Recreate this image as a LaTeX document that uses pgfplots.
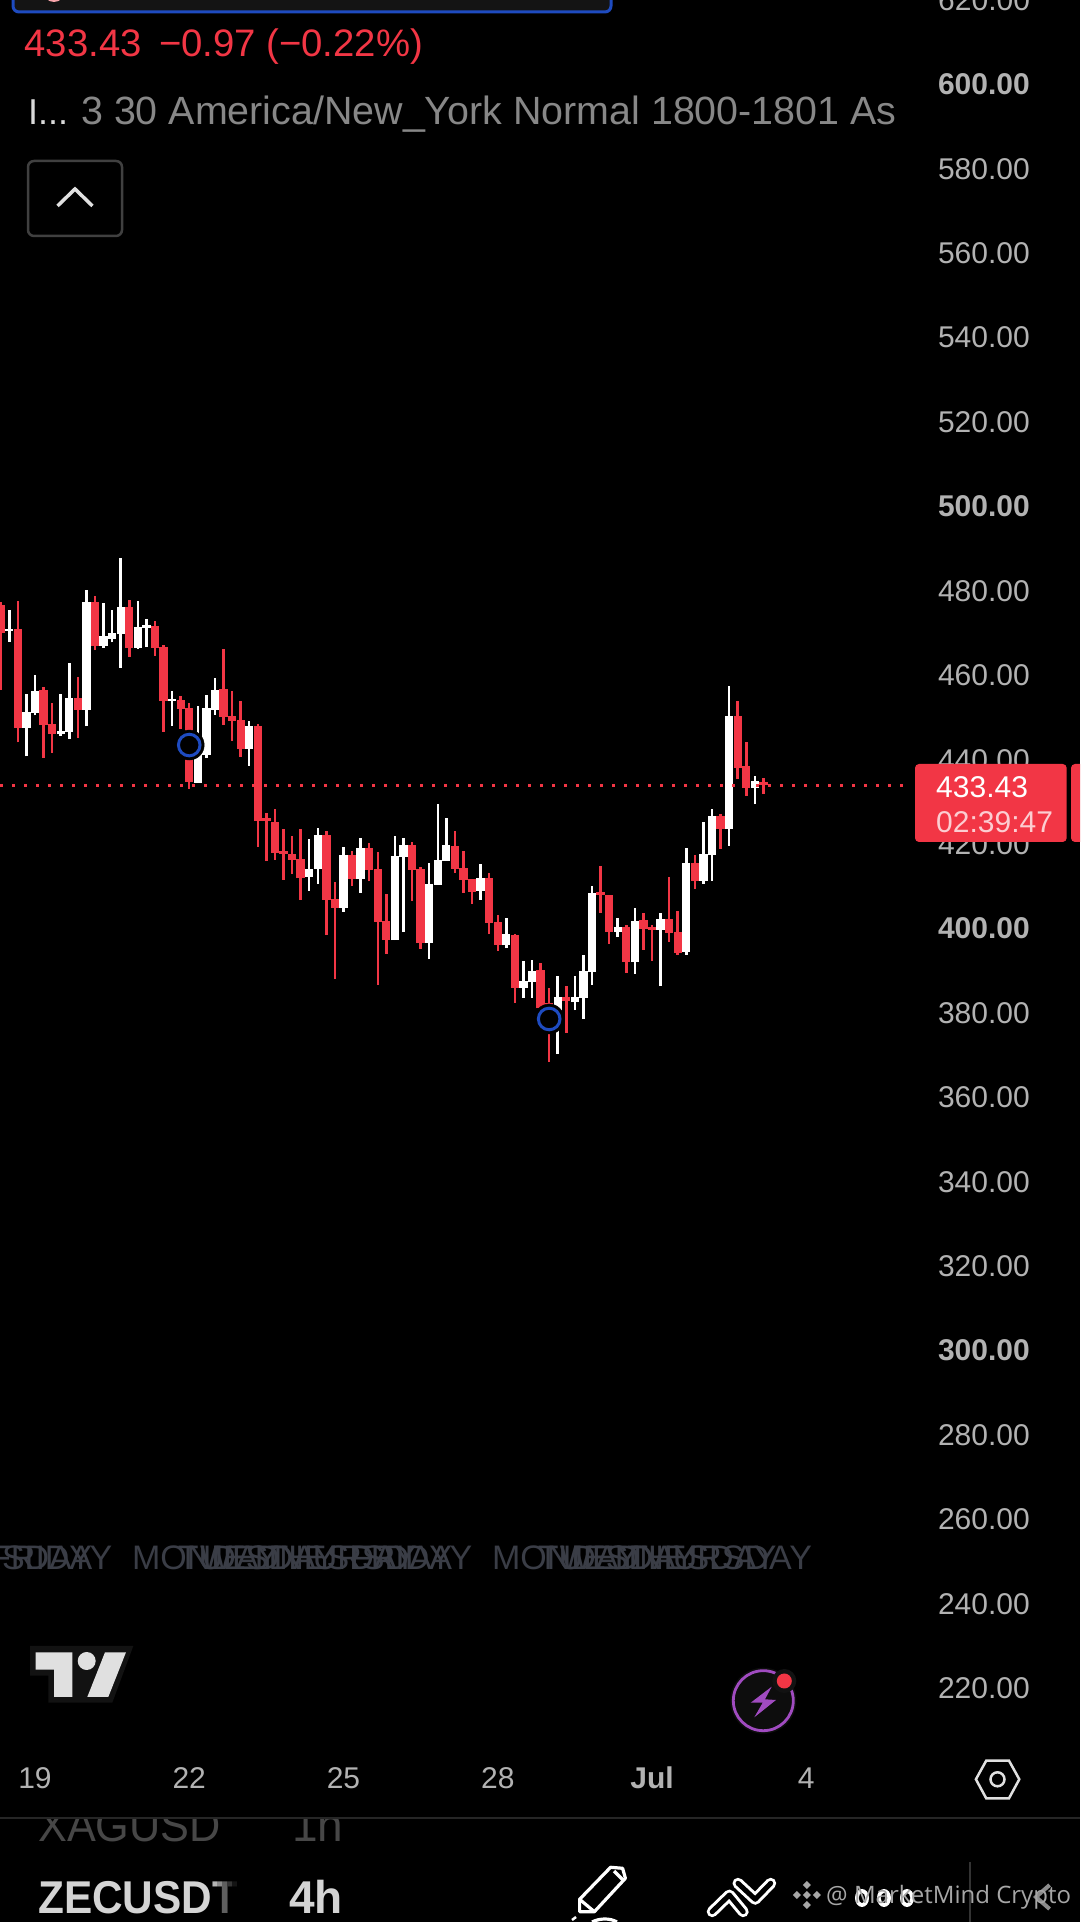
\documentclass[border=0pt]{standalone}
\usepackage{fontspec}
\usepackage{pgfplots}
\usepackage{pgfplotstable}
\pgfplotsset{compat=1.18}
\setmainfont{Liberation Sans}
\newfontfamily\wmfont{Open Sans}
\definecolor{tvred}{HTML}{F23645}
\definecolor{ticktext}{HTML}{B2B2B2}
\definecolor{daytext}{HTML}{3A3D46}
\definecolor{marker}{HTML}{1E4BC0}
\definecolor{purp}{HTML}{A04BC0}
\newcommand{\fs}[1]{\fontsize{#1}{#1}\selectfont}

% candle index, body top, body bottom, high, low (4h candles, index 4 = 19 Jun)
\pgfplotstableread{
i top bot high low
1 470.4 470.0 475.0 467.5
3 450.8 447.1 455.1 440.3
4 455.8 450.7 459.5 450.0
7 446.3 445.6 455.1 445.2
8 454.1 446.1 462.4 444.5
10 476.9 451.3 479.7 447.4
12 468.9 466.5 476.6 466.0
13 469.6 468.2 475.0 467.3
14 475.7 469.3 487.2 461.3
16 470.9 466.0 477.1 465.8
17 471.4 470.8 472.8 466.2
20 453.9 453.4 455.8 447.5
23 442.6 434.1 452.3 434.1
24 451.7 440.6 454.9 440.0
25 456.1 451.3 458.8 450.2
29 447.5 442.1 448.6 438.1
36 413.7 411.8 420.8 408.5
37 421.7 413.7 423.4 410.1
40 417.0 404.4 418.9 403.5
42 418.6 411.3 421.0 408.0
46 416.7 396.8 421.5 396.8
47 419.3 416.5 421.0 398.7
50 410.1 396.1 415.1 392.3
51 415.8 409.9 429.1 409.9
52 419.3 415.5 425.7 415.5
56 411.5 408.4 414.8 406.3
59 398.2 395.6 402.0 394.9
61 387.1 385.5 391.9 383.1
62 389.5 386.9 392.1 383.1
65 383.3 378.7 388.3 369.8
67 383.3 382.1 388.3 380.2
68 389.5 383.1 393.3 378.1
69 408.0 389.3 409.6 386.2
72 399.9 398.7 402.0 397.5
74 401.3 391.6 404.4 388.8
77 401.8 399.2 403.2 385.9
80 415.1 394.0 418.6 393.3
82 417.2 410.8 424.8 410.1
83 426.2 417.0 427.9 410.8
85 449.9 423.1 457.0 419.1
88 434.5 432.8 435.7 429.0
}\upcandles

\pgfplotstableread{
i top bot high low
0 476.2 469.5 476.8 456.1
2 470.4 447.1 477.1 443.6
5 456.1 447.8 456.8 440.0
6 448.0 445.6 453.0 441.2
9 454.1 451.3 459.1 444.7
11 476.9 466.5 478.3 465.5
15 475.7 466.0 477.3 463.9
18 471.2 466.1 472.4 464.2
19 466.2 453.4 466.6 446.2
21 453.7 451.6 454.6 446.8
22 451.8 434.3 452.9 432.6
26 456.3 449.7 465.8 447.8
27 449.9 448.8 455.8 444.0
28 448.9 442.1 453.4 440.2
30 447.5 425.0 447.9 418.9
31 425.6 425.0 426.8 415.5
32 424.8 417.4 427.9 415.8
33 417.8 417.2 423.1 411.1
34 417.2 415.8 421.5 412.5
35 416.0 411.5 423.1 406.3
38 421.7 406.3 422.7 398.0
39 406.5 404.4 410.5 387.6
41 417.0 411.3 417.9 409.6
43 418.6 413.4 419.8 410.7
44 413.7 401.1 417.7 386.2
45 401.3 396.8 407.7 393.5
48 419.3 413.4 420.1 406.1
49 413.7 396.1 414.1 394.7
53 419.1 413.7 422.7 412.7
54 413.9 411.0 417.9 408.0
55 411.3 408.2 411.3 405.4
57 411.5 400.9 412.7 398.2
58 401.1 395.6 402.8 394.2
60 398.0 385.5 398.3 382.0
63 389.7 380.6 391.4 379.9
64 381.8 379.5 385.5 367.9
66 383.3 382.4 385.9 374.8
70 408.2 407.5 414.4 403.2
71 407.5 398.7 407.5 395.9
73 399.9 391.6 400.4 389.0
75 401.6 399.4 403.2 394.5
76 399.9 399.2 400.4 391.9
78 401.8 398.5 411.8 396.4
79 398.7 393.8 403.7 393.3
81 415.1 410.8 417.0 408.9
84 426.2 423.1 426.7 418.4
86 449.9 437.6 453.4 435.0
87 438.0 432.8 443.7 430.9
89 434.3 433.5 435.2 431.4
}\downcandles

\begin{document}
\begin{tikzpicture}
\useasboundingbox (0,0) rectangle (1080pt,1922pt);
\clip (0,0) rectangle (1080pt,1922pt);
\begin{axis}[
    at={(0,0)}, anchor=south west,
    scale only axis,
    width=1080pt, height=1922pt,
    xmin=-0.082, xmax=125.94,
    ymin=164.18, ymax=619.5,
    axis background/.style={fill=black},
    axis line style={draw=none},
    tick style={draw=none},
    major tick length=0pt,
    ytick={220,240,...,600},
    yticklabels={220.00,240.00,260.00,280.00,\textbf{300.00},320.00,340.00,360.00,380.00,\textbf{400.00},420.00,440.00,460.00,480.00,\textbf{500.00},520.00,540.00,560.00,580.00,\textbf{600.00}},
    yticklabel style={anchor=west, xshift=934.5pt, yshift=-2pt, text=ticktext, font=\fs{30}},
    xtick={4,22,40,58,76,94},
    xticklabels={19,22,25,28,\textbf{Jul},4},
    xticklabel style={anchor=center, yshift=144pt, text=ticktext, font=\fs{30}},
    candle/.style={draw=none, mark=none, forget plot},
]
% weekday labels that overlap along the chart
\pgfplotsinvokeforeach{-0.1/THURSDAY,5.9/FRIDAY,23.9/MONDAY,29.9/TUESDAY,35.9/WEDNESDAY,41.9/THURSDAY,47.9/FRIDAY,65.9/MONDAY,71.9/TUESDAY,77.9/WEDNESDAY,83.9/THURSDAY}{
    \pgfplotsextra{\foreach \a/\b in {#1}{\node[anchor=base, text=daytext, font=\fs{34}] at (axis cs:\a,247.6) {\b};}}
}
% wicks and bodies
\addplot[candle, error bars/.cd, y dir=plus, y explicit, error mark=none,
    error bar style={line width=2.5pt, color=white}]
    table[x=i, y=low, y error plus expr=\thisrow{high}-\thisrow{low}] {\upcandles};
\addplot[candle, error bars/.cd, y dir=plus, y explicit, error mark=none,
    error bar style={line width=8.3pt, color=white}]
    table[x=i, y=bot, y error plus expr=\thisrow{top}-\thisrow{bot}] {\upcandles};
\addplot[candle, error bars/.cd, y dir=plus, y explicit, error mark=none,
    error bar style={line width=2.5pt, color=tvred}]
    table[x=i, y=low, y error plus expr=\thisrow{high}-\thisrow{low}] {\downcandles};
\addplot[candle, error bars/.cd, y dir=plus, y explicit, error mark=none,
    error bar style={line width=8.3pt, color=tvred}]
    table[x=i, y=bot, y error plus expr=\thisrow{top}-\thisrow{bot}] {\downcandles};
% last price line
\addplot[color=tvred, line width=2.7pt, dash pattern=on 2.7pt off 9.3pt]
    coordinates {(-0.082,433.43)(105.4,433.43)};
% circled signals
\addplot[only marks, mark=*, mark size=15pt, mark options={draw=none, fill=black}]
    coordinates {(22,443.0)(64,378.1)};
\addplot[only marks, mark=*, mark size=10.8pt, mark options={draw=marker, line width=3pt, fill=black}]
    coordinates {(22,443.0)(64,378.1)};
\end{axis}

% app interface around the chart, in image pixels
\begin{scope}[x=1pt, y=-1pt, shift={(0pt,1922pt)}]
\node[anchor=base west, text=ticktext, font=\fs{30}, inner sep=0pt] at (938,10.5) {620.00};
\fill[fill=black!92, draw=marker, line width=3pt, rounded corners=6pt] (13,-20) rectangle (611,12);
\fill[fill=tvred!45!white] (54,-9) circle (11);
\node[anchor=base west, text=tvred, font=\fs{38.3}, inner sep=0pt] at (24.5,56.7) {433.43\hspace{0.45em}−0.97 (−0.22\%)};
\node[anchor=base west, text=black!15, font=\fs{36}, inner sep=0pt] at (28,125) {I...};
\node[anchor=base west, text=black!47, font=\fs{39.4}, inner sep=0pt] at (81,125) {3 30 America/New\_York Normal 1800-1801 As};
\draw[black!75, line width=2.5pt, rounded corners=6pt] (28,161) rectangle (122,236);
\draw[black!12, line width=3.5pt] (57.5,206) -- (75,189) -- (92.5,206);

% price tag
\fill[tvred, rounded corners=4pt] (915,764) rectangle (1066.7,842);
\fill[tvred, rounded corners=4pt] (1071,764) rectangle (1100,842);
\node[anchor=base west, text=white, font=\fs{30}, inner sep=0pt] at (936,798) {433.43};
\node[anchor=base west, text=white!75!tvred, font=\fs{30}, inner sep=0pt] at (936,833) {02:39:47};

% logo
\fill[black!93] (30,1646) -- (133.3,1646) -- (112.3,1702.7) -- (48.3,1702.7) -- (48.3,1675.7) -- (30,1675.7) -- cycle;
\fill[black!12] (35.7,1652.3) -- (72.3,1652.3) -- (72.3,1697) -- (54,1697) -- (54,1669.7) -- (35.7,1669.7) -- cycle;
\fill[black!12] (86.7,1661) circle (9);
\fill[black!12] (105,1652.3) -- (126,1652.3) -- (108.3,1697) -- (87.3,1697) -- cycle;

% bolt button
\fill[black!95] (763.3,1700.7) circle (33);
\draw[purp, line width=2.8pt] (763.3,1700.7) circle (30);
\fill[purp] (771.7,1686.7) -- (750.7,1702.7) -- (762.7,1702.7) -- (754.3,1717.3) -- (776,1700) -- (765,1699.3) -- cycle;
\fill[black!93] (784.3,1681) circle (12);
\fill[tvred] (784.3,1681) circle (7.5);

% settings hexagon
\draw[black!12, line width=2.5pt] (986.2,1760.7) -- (1009,1760.7) -- (1019.3,1779.3) -- (1009,1798.3) -- (986.2,1798.3) -- (975.9,1779.3) -- cycle;
\draw[black!12, line width=2.5pt] (997.5,1779.3) circle (7);

% bottom bar
\begin{scope}
\clip (0,1819) rectangle (1080,1922);
\node[anchor=base west, xscale=0.94, text=black!72, font=\fs{46}, inner sep=0pt] at (38,1841.7) {XAGUSD};
\node[anchor=base west, text=black!72, font=\fs{46}, inner sep=0pt] at (292,1841.7) {1h};
\end{scope}
\draw[black!85, line width=2.8pt] (0,1818) -- (1080,1818);
\node[anchor=base west, xscale=0.92, text=black!17, font=\bfseries\fs{46}, inner sep=0pt] at (38,1913.3) {ZECUSDT};
\foreach \x/\o in {212/0.15,217/0.35,222/0.55,227/0.75,232/0.9,237/1}{
    \fill[black, opacity=\o] (\x,1870) rectangle ++(5.2,50);
}
\node[anchor=base west, text=black!17, font=\bfseries\fs{46}, inner sep=0pt] at (289,1913.3) {4h};
% pencil
\draw[white, line width=3.2pt, line join=round] (579.6,1899.3) -- (610.6,1867.3) -- (622.6,1868.3) -- (625.4,1878.3) -- (594.4,1911.7) -- (579.6,1911.7) -- cycle;
\draw[white, line width=3.2pt] (614,1871) -- (623,1880);
\draw[white, line width=3.2pt] (579.6,1899.3) -- (594.4,1911.7);
\draw[white, line width=2.5pt] (572,1920) -- (576,1917);
\draw[white, line width=3.2pt] (592,1922) .. controls (600,1918) and (610,1918) .. (617,1922);
% zigzag
\foreach \w/\c in {11/white,5/black}{
    \draw[\c, line width=\w pt, line cap=round, line join=round] (712.2,1911.7) -- (729.4,1895) -- (743.2,1911.7);
    \draw[\c, line width=\w pt, line cap=round, line join=round] (738,1883.3) -- (755.2,1899.3) -- (770.7,1883.3);
}
% menu dots
\foreach \x in {862,884,907}{
    \fill[white] (\x,1898) ellipse (7 and 9);
    \fill[black] (\x,1898) ellipse (3.2 and 5);
}
\draw[black!80, line width=2pt] (970.4,1862) -- (970.4,1922);
\draw[black!45, line width=4pt] (1049.6,1885) -- (1036,1897) -- (1049.6,1909);
% watermark
\foreach \a/\b in {806.9/1885,806.9/1905,796.9/1895,816.9/1895,806.9/1895}{
    \fill[black!35] (\a,\b-4) -- (\a+4,\b) -- (\a,\b+4) -- (\a-4,\b) -- cycle;
}
\node[anchor=base west, text=black!35, font=\wmfont\fs{24}, inner sep=0pt] at (826,1904) {@ MarketMind Crypto};
\end{scope}
\end{tikzpicture}
\end{document}
